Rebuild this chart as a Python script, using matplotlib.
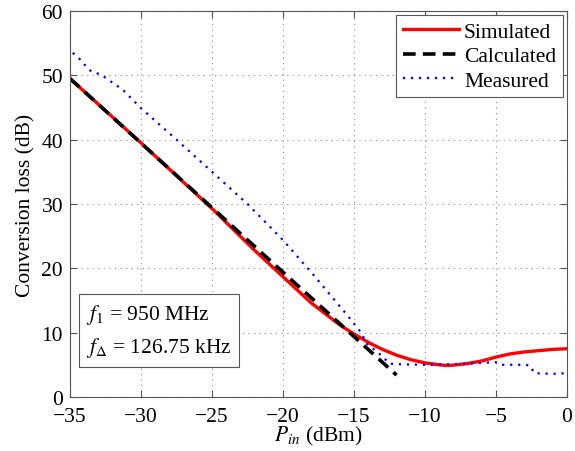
import matplotlib
matplotlib.use('Agg')
import matplotlib.pyplot as plt
import numpy as np

plt.rcParams['font.family'] = ['Liberation Serif', 'DejaVu Serif']
plt.rcParams['mathtext.fontset'] = 'stix'

# values
sim_x = [-35, -30, -25, -22, -20, -18, -16, -15, -14, -13, -12, -11, -10, -9, -8.5, -8, -7, -6, -5, -4, -3, -2, -1, 0]
sim_y = [49.5, 39.5, 29.3, 22.8, 18.7, 14.6, 11.2, 9.8, 8.5, 7.4, 6.5, 5.8, 5.3, 5.0, 4.9, 4.95, 5.2, 5.6, 6.2, 6.7, 7.0, 7.2, 7.4, 7.5]

calc_x = [-35, -20.5, -12]
calc_y = [49.5, 20.4, 3.4]

meas_x = [-34.8, -34.3, -33.8, -33.5, -32.8, -32.3, -31.3, -30, -27.5, -25, -22.5, -20, -17.9, -16, -15.5, -15, -14.5, -14.1, -13.2, -12.5,
          -12, -10, -8, -6, -5, -4.7, -3, -2.6, -2.3, -1, 0]
meas_y = [53.5, 52.5, 51.2, 50.6, 50.1, 49.3, 47.8, 44.9, 40.0, 35.0, 30.0, 24.4, 19.1, 14.1, 12.8, 11.4, 10.0, 8.3, 6.7, 5.2,
          5.1, 5.0, 5.1, 5.3, 5.4, 5.0, 5.0, 4.9, 3.7, 3.6, 3.7]

fig = plt.figure(figsize=(5.75, 4.52), dpi=100)
ax = fig.add_axes([0.1217, 0.1195, 0.8643, 0.854])

ax.plot(sim_x, sim_y, color='#ff0000', lw=2.4, label='Simulated')
ax.plot(calc_x, calc_y, color='black', lw=2.6, ls=(0, (3.5, 2)), label='Calculated')
ax.plot(meas_x, meas_y, color='#0000ff', lw=1.6, ls=(0, (1, 2.6)), label='Measured')

ax.set_xlim(-35, 0)
ax.set_ylim(0, 60)
ax.set_xticks(np.arange(-35, 1, 5))
ax.set_yticks(np.arange(0, 61, 10))
ax.set_xticklabels(['\u221235', '\u221230', '\u221225', '\u221220', '\u221215', '\u221210', '\u22125', '0'])
ax.tick_params(direction='in', labelsize=15.5, length=5, top=True, right=True, color='#555555')
ax.tick_params(axis='x', pad=7)
ax.tick_params(axis='y', pad=5)
ax.grid(True, ls=(0, (1, 4)), color='#888888', lw=0.8)
for s in ax.spines.values():
    s.set_color('#555555')

ax.set_xlabel('$P_{in}$ (dBm)', fontsize=15.5, labelpad=-1)
ax.set_ylabel('Conversion loss (dB)', fontsize=15.5, labelpad=4)

leg = ax.legend(loc='upper right', fontsize=15.5, fancybox=False, framealpha=1,
                edgecolor='#555555', handlelength=2.6, handletextpad=0.25,
                borderpad=0.3, labelspacing=0.2, borderaxespad=0.2)
leg.get_frame().set_linewidth(0.8)

ax.text(-33.85, 5.9, '$f_{\\mathit{1}}$ = 950 MHz\n$f_{\\Delta}$ = 126.75 kHz', fontsize=15.5,
        va='bottom', ha='left', linespacing=1.55,
        bbox=dict(boxstyle='square,pad=0.35', fc='white', ec='#555555', lw=0.8))

fig.savefig('out.png', dpi=100)
